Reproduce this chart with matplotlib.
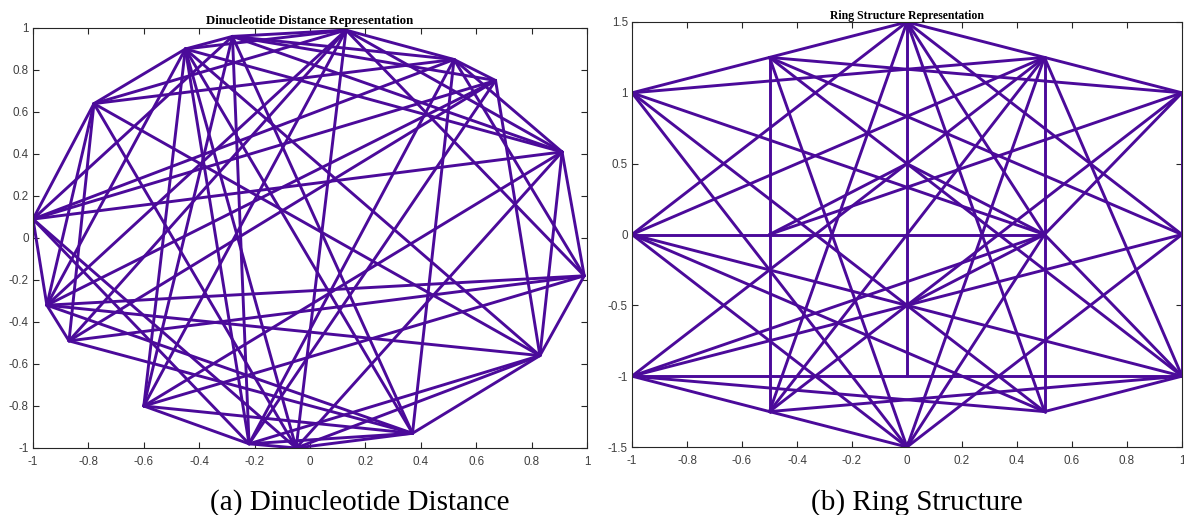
import matplotlib
matplotlib.use("Agg")
import matplotlib.pyplot as plt

# node positions (16 dinucleotides)
left_names = list("ABCDEFGHIJKLMNOP")
left_x = [-1.00, -0.95, -0.87, -0.78, -0.45, -0.28, 0.13, 0.52, 0.67, 0.91, 0.99, 0.83, 0.37, -0.05, -0.22, -0.60]
left_y = [0.09, -0.32, -0.49, 0.64, 0.90, 0.96, 0.99, 0.85, 0.75, 0.41, -0.18, -0.56, -0.93, -1.00, -0.98, -0.80]
left_edges = ("AB AD AF AH AI AJ AN AO "
              "BC BD BE BG BI BK BL BM "
              "CD CG CK CM CI "
              "DE DG DH DL DN "
              "EF EG EJ EL EM EN EO EP "
              "FG FH FI FJ FM FO FP "
              "GH GJ GK GN GP "
              "HI HJ HK HM HO "
              "IL IO "
              "JK JL JN JP "
              "KL KP "
              "LM LN LO "
              "MN MO MP "
              "NO OP").split()

# node positions for the ring structure (right panel)
right_names = list("abcdefghijklmnopq")
right_x = [-1, -0.5, 0, 0.5, 1, 1, 1, 0.5, 0, -0.5, -1, -1, -0.5, 0, 0.5, 0, 0]
right_y = [1, 1.25, 1.5, 1.25, 1, 0, -1, -1.25, -1.5, -1.25, -1, 0, 0, 0.5, 0, -0.5, -1]
right_edges = ("ab bc cd de ef fg "
               "bj cq dh lo kg "
               "ad ao ah ai "
               "be bf bi bg "
               "cf ch cj cl co "
               "dl dk di dg dj "
               "em eo ej "
               "fi "
               "go gj gh lg "
               "hk hl "
               "io il ik "
               "ko kf mn no po").split()

left_xticks = [-1, -0.8, -0.6, -0.4, -0.2, 0, 0.2, 0.4, 0.6, 0.8, 1]
left_yticks = [-1, -0.8, -0.6, -0.4, -0.2, 0, 0.2, 0.4, 0.6, 0.8, 1]
right_xticks = [-1, -0.8, -0.6, -0.4, -0.2, 0, 0.2, 0.4, 0.6, 0.8, 1]
right_yticks = [-1.5, -1, -0.5, 0, 0.5, 1, 1.5]

LINE = "#4b0a9a"
AXIS = "#262626"


def draw_graph(ax, names, xs, ys, edges):
    pos = {n: (x, y) for n, x, y in zip(names, xs, ys)}
    for e in edges:
        (x0, y0), (x1, y1) = pos[e[0]], pos[e[1]]
        ax.plot([x0, x1], [y0, y1], color=LINE, lw=2.1, solid_capstyle="round")


def style_axes(ax, xticks, yticks, title, title_size, title_pad):
    ax.set_xticks(xticks)
    ax.set_yticks(yticks)
    ax.set_xticklabels([f"{t:g}" for t in xticks])
    ax.set_yticklabels([f"{t:g}" for t in yticks])
    ax.tick_params(direction="in", top=True, right=True, length=4, width=0.8,
                   labelsize=8.4, colors=AXIS)
    ax.tick_params(axis="x", pad=6)
    ax.tick_params(axis="y", pad=3)
    for lab in ax.get_xticklabels() + ax.get_yticklabels():
        lab.set_family("Liberation Sans")
        lab.set_color("#404040")
    for s in ax.spines.values():
        s.set_color(AXIS)
        s.set_linewidth(0.8)
    ax.set_title(title, family="Liberation Serif", fontweight="bold",
                 fontsize=title_size, pad=title_pad)


fig = plt.figure(figsize=(11.84, 5.15), dpi=100)
ax1 = fig.add_axes([33 / 1184, 67 / 515, 554 / 1184, 420 / 515])
ax2 = fig.add_axes([632 / 1184, 68 / 515, 550 / 1184, 425 / 515])

draw_graph(ax1, left_names, left_x, left_y, left_edges)
ax1.set_xlim(-1, 1)
ax1.set_ylim(-1, 1)
style_axes(ax1, left_xticks, left_yticks, "Dinucleotide Distance Representation", 9.3, 3)

draw_graph(ax2, right_names, right_x, right_y, right_edges)
ax2.set_xlim(-1, 1)
ax2.set_ylim(-1.5, 1.5)
style_axes(ax2, right_xticks, right_yticks, "Ring Structure Representation", 8.5, 2.5)

fig.text(360 / 1184, 5 / 515, "(a) Dinucleotide Distance", ha="center", va="baseline",
         family="Liberation Serif", fontsize=21)
fig.text(917 / 1184, 5 / 515, "(b) Ring Structure", ha="center", va="baseline",
         family="Liberation Serif", fontsize=21)

fig.savefig("out.png", dpi=100)
